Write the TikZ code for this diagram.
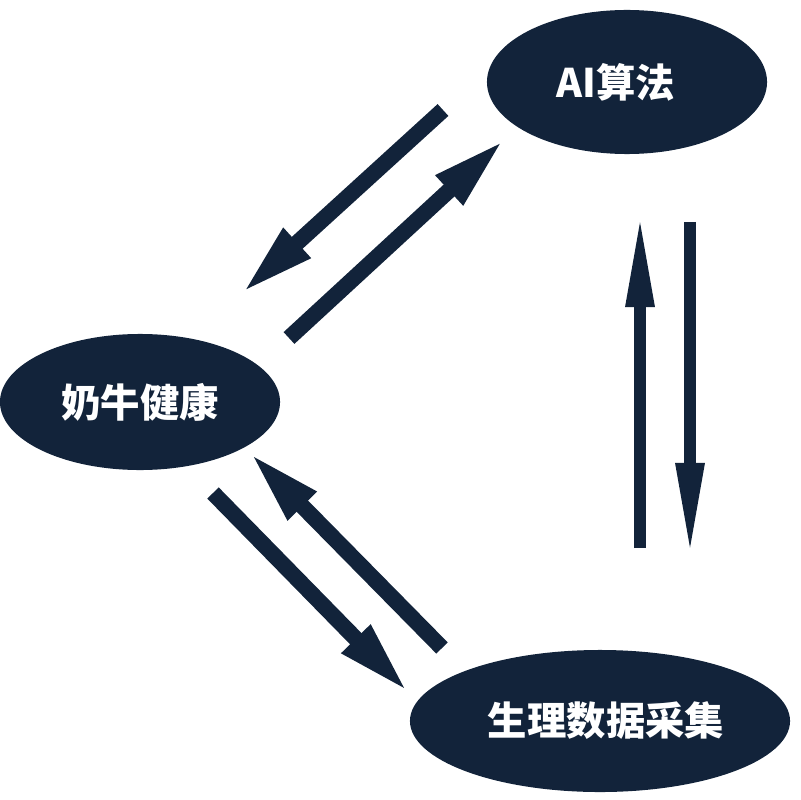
\documentclass[tikz,border=0pt]{standalone}
\usepackage{fontspec}
\newfontfamily\cjk{Noto Sans CJK SC}
\usetikzlibrary{shapes.geometric}
\usetikzlibrary{arrows.meta}
\definecolor{navy}{HTML}{12233A}
\tikzset{
    topic/.style = {ellipse, fill=navy, text=white, inner sep=0pt,
        font=\cjk\bfseries\fontsize{28}{32}\selectfont},
    flow/.style = {draw=navy, line width=0.4cm, -{Triangle[length=1.9cm,width=0.9cm]}},
    vflow/.style = {draw=navy, line width=0.3cm, -{Triangle[length=2.35cm,width=0.65cm]}}}
\begin{document}
\begin{tikzpicture}[x=0.025cm, y=-0.025cm]
    \useasboundingbox (0,0) rectangle (800,800);
    \node (algo) [topic, minimum width=7cm, minimum height=3.6cm] at (627,82) {AI算法\kern0.55cm};
    \node (health) [topic, minimum width=7cm, minimum height=3.4cm] at (140,402) {奶牛健康};
    \node (data) [topic, minimum width=9.5cm, minimum height=3.55cm] at (600,721) {\hspace{0.3cm}生理数据采集};
    % arrow ends
    \coordinate (ah) at (443,110);
    \coordinate (ha) at (241,294);
    \coordinate (hs) at (289,338);
    \coordinate (as) at (505,139);
    \coordinate (hd) at (213,493);
    \coordinate (dh) at (409,693);
    \coordinate (ds) at (442,648);
    \coordinate (hh) at (249,452);
    \coordinate (du) at (640,548);
    \coordinate (au) at (640,213);
    \coordinate (ad) at (690,222);
    \coordinate (dd) at (690,557);
    \draw [flow] (ah) -- (ha);
    \draw [flow] (hs) -- (as);
    \draw [flow] (hd) -- (dh);
    \draw [flow] (ds) -- (hh);
    \draw [vflow] (du) -- (au);
    \draw [vflow] (ad) -- (dd);
\end{tikzpicture}
\end{document}
